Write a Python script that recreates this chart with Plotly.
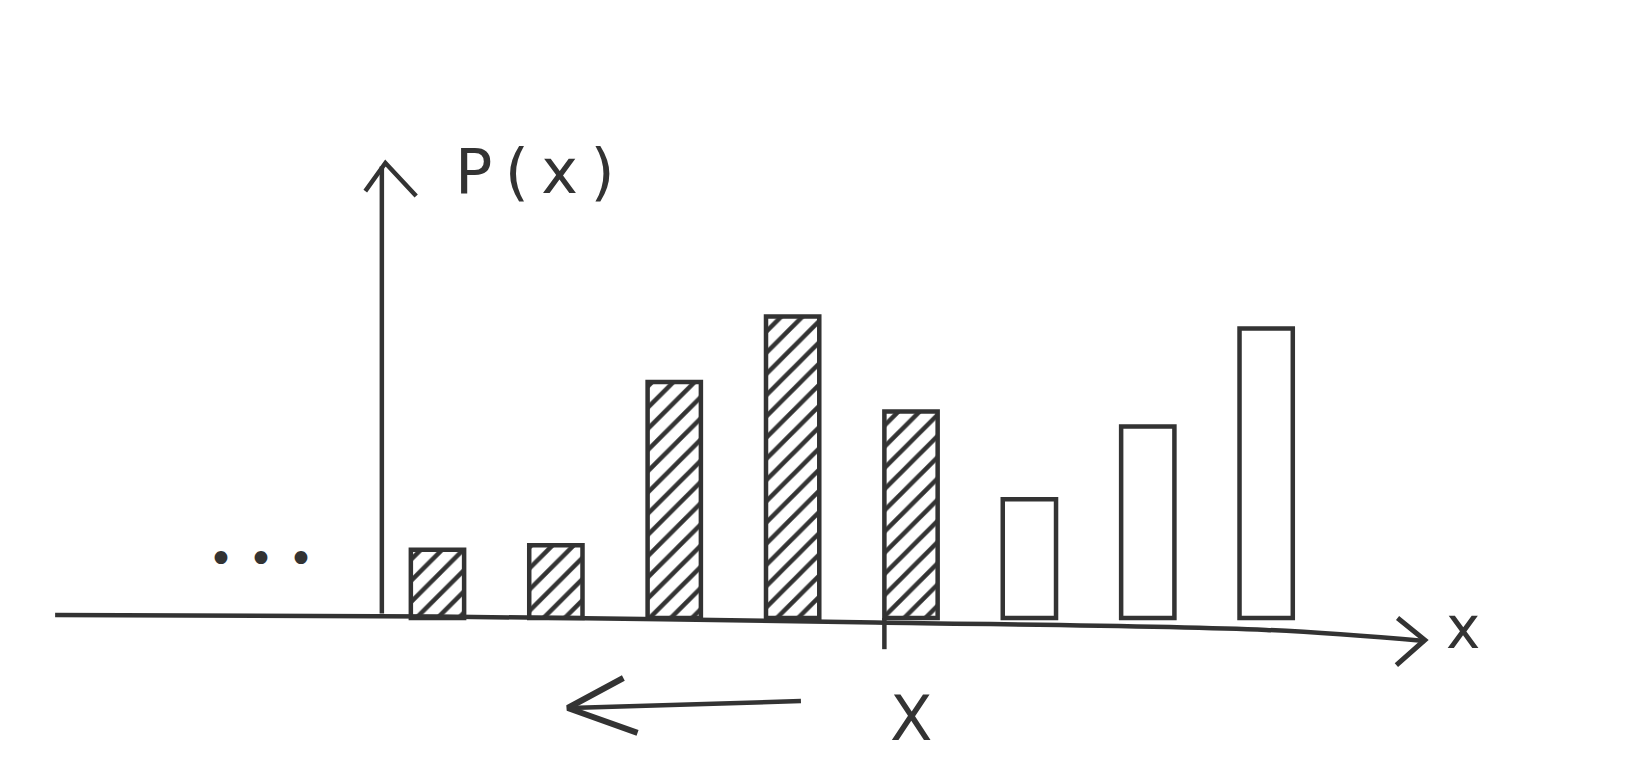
import plotly.graph_objects as go

# outcomes of the discrete variable and their probabilities
outcomes = [1, 2, 3, 4, 5, 6, 7, 8]
prob = [0.046, 0.049, 0.159, 0.203, 0.139, 0.080, 0.129, 0.195]
hatched = [True, True, True, True, True, False, False, False]   # P(x <= X) part
x_index = 4            # position of X in the outcomes list

INK = "#333333"
LW = 4.5
BAR_W = 0.45

fig = go.Figure()

fig.add_trace(go.Bar(
    x=outcomes, y=prob, width=BAR_W,
    marker=dict(color="white",
                line=dict(color=INK, width=LW),
                pattern=dict(shape=["/" if h else "" for h in hatched],
                             fgcolor=INK, fgopacity=1, bgcolor="white",
                             size=15, solidity=0.3, fillmode="overlay")),
    hoverinfo="skip"))


def stroke(xs, ys, w=LW, smooth=True):
    fig.add_trace(go.Scatter(x=xs, y=ys, mode="lines", hoverinfo="skip",
                             line=dict(color=INK, width=w,
                                       shape="spline" if smooth else "linear")))


# horizontal axis (hand drawn, drifting down at the end) with open arrowhead
stroke([-2.23, 1.0, 4.7, 8.0, 9.34], [0.002, 0.001, -0.003, -0.008, -0.0155])
stroke([9.11, 9.34, 9.10], [0.0, -0.0148, -0.0317], w=LW + 0.5, smooth=False)

# vertical axis with open arrowhead
stroke([0.53, 0.53], [0.003, 0.304])
stroke([0.39, 0.56, 0.82], [0.2875, 0.3064, 0.2842], smooth=False)

# tick at X: left edge of the X bar continued below the axis
tick_x = outcomes[x_index] - BAR_W / 2
stroke([tick_x, tick_x], [0.0, -0.021])

# arrow pointing left below the axis
stroke([4.07, 2.12], [-0.0559, -0.0606])
stroke([2.57, 2.10, 2.69], [-0.0404, -0.0606, -0.0774], w=LW + 1.5, smooth=False)

font = "DejaVu Sans"
labels = [
    (1.82, 0.301, "P\u2009(\u2009x\u2009)", 62),
    (9.66, -0.0067, "x", 58),
    (outcomes[x_index], -0.068, "X", 62),
    (-0.49, 0.040, "\u2022 \u2022 \u2022", 44),
]
for lx, ly, txt, sz in labels:
    fig.add_annotation(x=lx, y=ly, text=txt, showarrow=False,
                       font=dict(family=font, size=sz, color=INK))

fig.update_layout(
    width=1650, height=768,
    margin=dict(l=0, r=0, t=0, b=0),
    plot_bgcolor="white", paper_bgcolor="white",
    showlegend=False,
    xaxis=dict(visible=False, range=[-2.628, 11.31]),
    yaxis=dict(visible=False, range=[-0.1064, 0.4108]),
)

fig.write_html("out.html")
